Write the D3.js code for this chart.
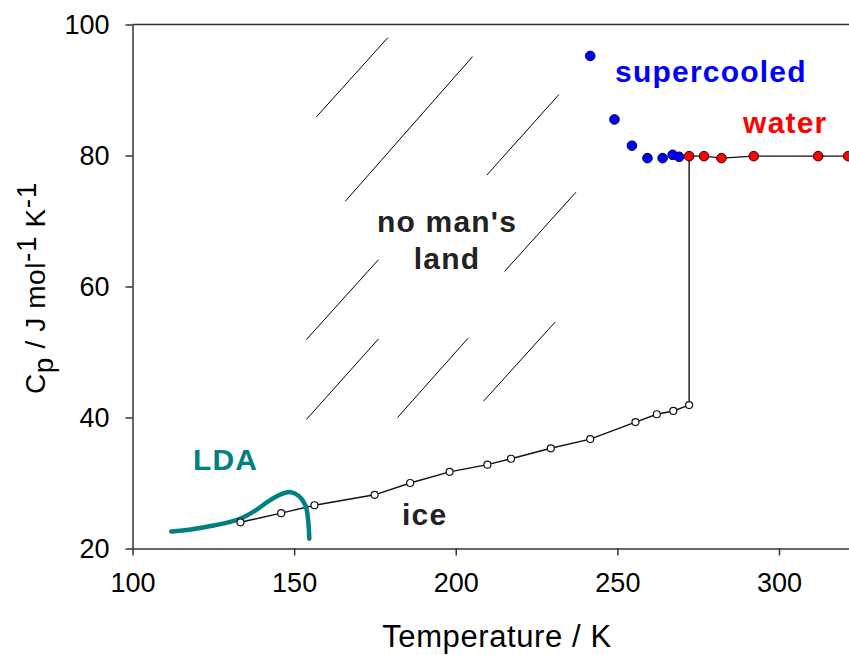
<!DOCTYPE html>
<html>
<head>
<meta charset="utf-8">
<script src="https://cdn.jsdelivr.net/npm/d3@7"></script>
<style>
  body { margin: 0; background: #fff; }
  svg { display: block; font-family: "Liberation Sans", Arial, sans-serif; }
</style>
</head>
<body>
<div id="chart"></div>
<script>
// Heat capacity of water phases (T in K, Cp in J/mol/K)
const iceT  = [133.4, 146.0, 156.3, 174.9, 185.9, 198.1, 209.8, 217.1, 229.4, 241.6, 255.6, 262.2, 267.3, 272.2];
const iceCp = [24.0, 25.4, 26.6, 28.2, 30.0, 31.7, 32.8, 33.7, 35.3, 36.7, 39.3, 40.5, 41.0, 41.9];

const superT  = [241.6, 249.1, 254.5, 259.3, 264.0, 267.1, 269.1];
const superCp = [95.2, 85.5, 81.5, 79.6, 79.6, 80.1, 79.8];

const waterT  = [272.2, 276.8, 282.2, 292.2, 312.1, 321.4];
const waterCp = [79.9, 79.9, 79.6, 79.9, 79.9, 79.9];

const ldaT  = [112, 118, 125, 133, 138, 142, 146, 149, 151.5, 153.5, 154.3, 154.7];
const ldaCp = [22.6, 22.9, 23.5, 24.5, 25.8, 27.2, 28.3, 28.6, 28.0, 26.6, 24.5, 21.5];

// hatching of the "no man's land" region: [T1, Cp1, T2, Cp2]
const hatch = [
  [156.9, 85.9, 179.0, 98.0],
  [165.8, 73.0, 205.2, 95.1],
  [209.6, 77.0, 231.9, 89.3],
  [215.1, 62.3, 237.2, 74.4],
  [153.8, 51.9, 176.1, 64.1],
  [153.8, 39.7, 176.1, 52.0],
  [182.0, 40.0, 203.8, 52.1],
  [208.6, 42.5, 230.8, 54.6]
];

const xTicks = [100, 150, 200, 250, 300];
const yTicks = [20, 40, 60, 80, 100];

const width = 849, height = 655;

const svg = d3.select('#chart').append('svg')
  .attr('width', width)
  .attr('height', height);

svg.append('rect').attr('width', width).attr('height', height).attr('fill', '#fff');

// x runs off the right edge of the picture (cropped chart)
const x = d3.scaleLinear().domain([100, 350]).range([132.5, 132.5 + 250 * 3.2325]);
const y = d3.scaleLinear().domain([20, 100]).range([548.5, 24.5]);

const axisColor = '#333';

// top frame line
svg.append('line')
  .attr('x1', x(100)).attr('x2', width)
  .attr('y1', y(100)).attr('y2', y(100))
  .attr('stroke', axisColor).attr('stroke-width', 1.5);

const xAxis = svg.append('g')
  .attr('transform', `translate(0,${y(20)})`)
  .call(d3.axisBottom(x).tickValues(xTicks).tickSize(7).tickSizeOuter(0).tickPadding(17));

const yAxis = svg.append('g')
  .attr('transform', `translate(${x(100)},0)`)
  .call(d3.axisLeft(y).tickValues(yTicks).tickSize(7).tickSizeOuter(0).tickPadding(16));

[xAxis, yAxis].forEach(a => {
  a.selectAll('path, line').attr('stroke', axisColor).attr('stroke-width', 1.5);
  a.selectAll('text')
    .attr('fill', '#000')
    .style('font-family', '"Liberation Sans", Arial, sans-serif')
    .style('font-size', '27px');
});

// axis titles
svg.append('text')
  .attr('x', 497)
  .attr('y', 647)
  .attr('text-anchor', 'middle')
  .style('font-size', '31px')
  .style('letter-spacing', '0.6px')
  .text('Temperature / K');

const yTitle = svg.append('text')
  .attr('transform', `translate(45,288) rotate(-90)`)
  .attr('text-anchor', 'middle')
  .style('font-size', '28px')
  .style('letter-spacing', '0.6px');
yTitle.append('tspan').text('C');
yTitle.append('tspan').attr('dy', 8).text('p');
yTitle.append('tspan').attr('dy', -8).text(' / J mol');
yTitle.append('tspan').attr('dy', -9).text('-1');
yTitle.append('tspan').attr('dy', 9).text(' K');
yTitle.append('tspan').attr('dy', -9).text('-1');

// hatch lines
svg.append('g').selectAll('line')
  .data(hatch)
  .join('line')
  .attr('x1', d => x(d[0])).attr('y1', d => y(d[1]))
  .attr('x2', d => x(d[2])).attr('y2', d => y(d[3]))
  .attr('stroke', '#000').attr('stroke-width', 1);

const line = d3.line().x(d => x(d[0])).y(d => y(d[1]));
const zip = (a, b) => a.map((v, i) => [v, b[i]]);

const ice = zip(iceT, iceCp);
const water = zip(waterT, waterCp);
const superc = zip(superT, superCp);
const lda = zip(ldaT, ldaCp);

// ice line + melting step + liquid water line
svg.append('path')
  .attr('d', line(ice.concat([[iceT[iceT.length - 1], waterCp[0]]]).concat(water)))
  .attr('fill', 'none').attr('stroke', '#111').attr('stroke-width', 1.4);

// LDA curve
svg.append('path')
  .attr('d', d3.line().x(d => x(d[0])).y(d => y(d[1])).curve(d3.curveCatmullRom)(lda))
  .attr('fill', 'none').attr('stroke', '#008080').attr('stroke-width', 4.5)
  .attr('stroke-linecap', 'round');

svg.append('g').selectAll('circle')
  .data(ice)
  .join('circle')
  .attr('cx', d => x(d[0])).attr('cy', d => y(d[1])).attr('r', 3.5)
  .attr('fill', '#fff').attr('stroke', '#111').attr('stroke-width', 1.2);

svg.append('g').selectAll('circle')
  .data(superc)
  .join('circle')
  .attr('cx', d => x(d[0])).attr('cy', d => y(d[1])).attr('r', 4.8)
  .attr('fill', '#0000ff').attr('stroke', '#000040').attr('stroke-width', 1);

svg.append('g').selectAll('circle')
  .data(water)
  .join('circle')
  .attr('cx', d => x(d[0])).attr('cy', d => y(d[1])).attr('r', 4.8)
  .attr('fill', '#ff0000').attr('stroke', '#300').attr('stroke-width', 1);

// region labels
function label(t, cp, txt, color, anchor) {
  svg.append('text')
    .attr('x', x(t)).attr('y', y(cp))
    .attr('text-anchor', anchor || 'start')
    .attr('fill', color)
    .style('font-size', '30px')
    .style('font-weight', 'bold')
    .style('letter-spacing', '1.2px')
    .text(txt);
}
label(249.3, 91.2, 'supercooled', '#0000ff');
label(288.9, 83.4, 'water', '#ff0000');
label(118.7, 32.0, 'LDA', '#008080');
label(197.3, 68.3, "no man's", '#222', 'middle');
label(197.3, 62.7, 'land', '#222', 'middle');
label(183.4, 23.6, 'ice', '#222');
</script>
</body>
</html>
